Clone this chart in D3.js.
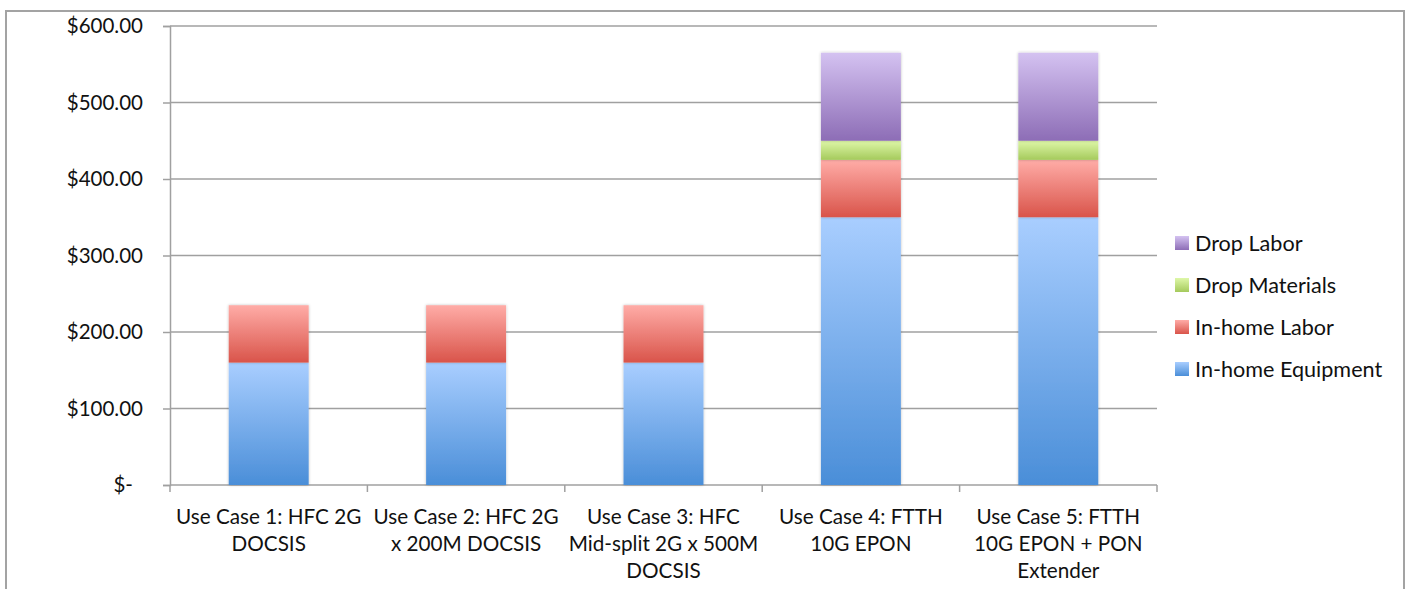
<!DOCTYPE html>
<html>
<head>
<meta charset="utf-8">
<script src="https://cdn.jsdelivr.net/npm/d3@7"></script>
<style>
  html, body { margin: 0; padding: 0; background: #fff; }
  svg { display: block; }
  text { font-family: Lato, "Noto Sans", sans-serif; fill: #111; }
</style>
</head>
<body>
<svg id="chart" width="1406" height="589"></svg>
<script>
// Per-subscriber cost by use case, stacked by component
const categories = [
  ["Use Case 1: HFC 2G", "DOCSIS"],
  ["Use Case 2: HFC 2G", "x 200M DOCSIS"],
  ["Use Case 3: HFC", "Mid-split 2G x 500M", "DOCSIS"],
  ["Use Case 4: FTTH", "10G EPON"],
  ["Use Case 5: FTTH", "10G EPON + PON", "Extender"]
];
const seriesNames = ["In-home Equipment", "In-home Labor", "Drop Materials", "Drop Labor"];
const inHomeEquipment = [160, 160, 160, 350, 350];
const inHomeLabor     = [75, 75, 75, 75, 75];
const dropMaterials   = [0, 0, 0, 25, 25];
const dropLabor       = [0, 0, 0, 115, 115];
const yTicks = [0, 100, 200, 300, 400, 500, 600];

// top / bottom gradient stops for each series
const gradStops = [
  ["#a9ceff", "#4a8ed8"],
  ["#ffaca7", "#d9544a"],
  ["#def7a8", "#a5ca5c"],
  ["#d4c2f1", "#8d6db6"]
];

const svg = d3.select("#chart");
const W = 1406, H = 589;
const plotL = 170, plotR = 1157, plotT = 26, plotB = 485;

const rows = categories.map((c, i) => ({
  key: i,
  "In-home Equipment": inHomeEquipment[i],
  "In-home Labor": inHomeLabor[i],
  "Drop Materials": dropMaterials[i],
  "Drop Labor": dropLabor[i]
}));

const x = d3.scaleBand().domain(d3.range(categories.length))
  .range([plotL, plotR]).paddingInner(0.595).paddingOuter(0.2975);
const y = d3.scaleLinear().domain([0, 600]).range([plotB, plotT]);

const defs = svg.append("defs");
gradStops.forEach((s, i) => {
  const g = defs.append("linearGradient").attr("id", "grad" + i)
    .attr("x1", 0).attr("y1", 0).attr("x2", 0).attr("y2", 1);
  g.append("stop").attr("offset", "0%").attr("stop-color", s[0]);
  g.append("stop").attr("offset", "100%").attr("stop-color", s[1]);
});
const shadow = defs.append("filter").attr("id", "shadow")
  .attr("x", "-20%").attr("y", "-20%").attr("width", "140%").attr("height", "140%");
shadow.append("feGaussianBlur").attr("in", "SourceAlpha").attr("stdDeviation", 1.5).attr("result", "b");
shadow.append("feComponentTransfer").attr("in", "b").attr("result", "c")
  .append("feFuncA").attr("type", "linear").attr("slope", 0.25);
const merge = shadow.append("feMerge");
merge.append("feMergeNode").attr("in", "c");
merge.append("feMergeNode").attr("in", "SourceGraphic");

// outer frame
svg.append("rect").attr("x", 6).attr("y", 11).attr("width", W - 8).attr("height", H + 20)
  .attr("fill", "none").attr("stroke", "#a3a3a3").attr("stroke-width", 2);

// gridlines
svg.append("g").selectAll("line").data(yTicks.filter(d => d > 0)).join("line")
  .attr("x1", plotL).attr("x2", plotR)
  .attr("y1", d => y(d)).attr("y2", d => y(d))
  .attr("stroke", "#a0a0a0").attr("stroke-width", 1.5);

// y axis
const yAxis = d3.axisLeft(y).tickValues(yTicks).tickSize(7).tickPadding(20)
  .tickFormat(d => d === 0 ? "$-" : "$" + d3.format(".2f")(d));
const gy = svg.append("g").attr("transform", `translate(${plotL},0)`).call(yAxis);
gy.select(".domain").attr("stroke", "#a0a0a0").attr("stroke-width", 1.5);
gy.selectAll(".tick line").attr("stroke", "#a0a0a0").attr("stroke-width", 1.5);
gy.selectAll(".tick text").attr("font-size", 20.5).attr("fill", "#111")
  .attr("font-family", "Lato, sans-serif")
  .attr("dx", d => d === 0 ? -10 : 0);

// x axis with ticks at category boundaries
const bounds = d3.range(categories.length + 1).map(i => plotL + i * x.step());
svg.append("line").attr("x1", plotL).attr("x2", plotR).attr("y1", plotB).attr("y2", plotB)
  .attr("stroke", "#a0a0a0").attr("stroke-width", 1.5);
svg.append("g").selectAll("line").data(bounds).join("line")
  .attr("x1", d => d).attr("x2", d => d).attr("y1", plotB).attr("y2", plotB + 7)
  .attr("stroke", "#a0a0a0").attr("stroke-width", 1.5);

// stacked bars
const stack = d3.stack().keys(seriesNames);
const layers = stack(rows);
svg.append("g").selectAll("g").data(layers).join("g")
  .attr("fill", (d, i) => `url(#grad${i})`)
  .selectAll("rect").data(d => d.filter(p => p[1] - p[0] > 0)).join("rect")
  .attr("x", d => x(d.data.key))
  .attr("width", x.bandwidth())
  .attr("y", d => y(d[1]))
  .attr("height", d => y(d[0]) - y(d[1]))
  .attr("filter", "url(#shadow)");

// category labels
const lab = svg.append("g").selectAll("text").data(categories).join("text")
  .attr("text-anchor", "middle")
  .attr("font-size", 20.7)
  .attr("transform", (d, i) => `translate(${x(i) + x.bandwidth() / 2},524)`);
lab.selectAll("tspan").data(d => d).join("tspan")
  .attr("x", 0).attr("dy", (d, i) => i === 0 ? 0 : 27).text(d => d);

// legend (top entry is the top of the stack)
const legendItems = seriesNames.map((n, i) => ({ n, i })).reverse();
const lg = svg.append("g").selectAll("g").data(legendItems).join("g")
  .attr("transform", (d, k) => `translate(1175,${243 + k * 42})`);
lg.append("rect").attr("x", 0).attr("y", -7).attr("width", 14).attr("height", 14)
  .attr("fill", d => `url(#grad${d.i})`);
lg.append("text").attr("x", 20).attr("y", 0).attr("dy", "0.35em")
  .attr("font-size", 21.6).text(d => d.n);
</script>
</body>
</html>
